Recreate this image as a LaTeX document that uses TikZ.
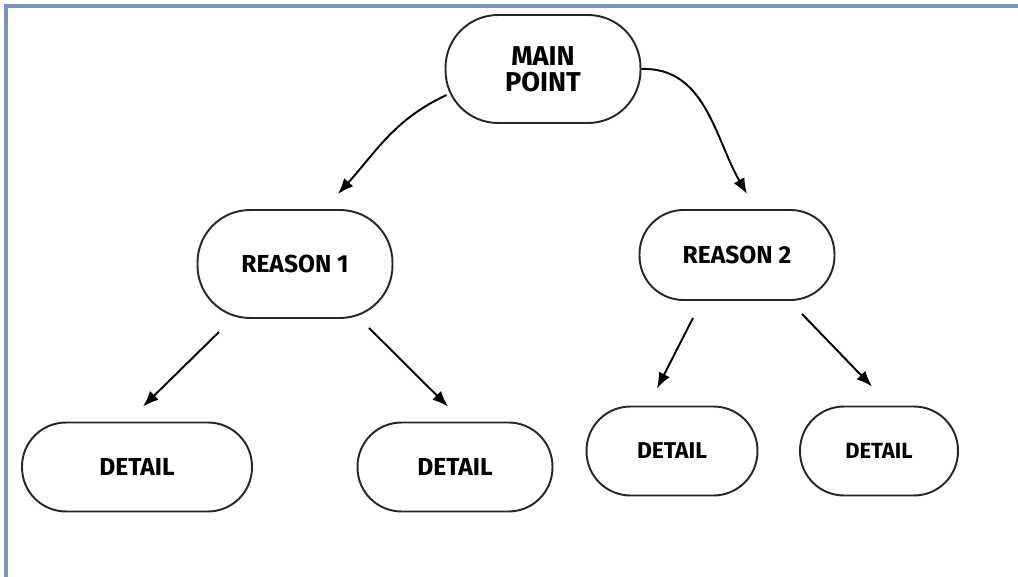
\documentclass[tikz,border=0pt]{standalone}
\usepackage{fontspec}
\setmainfont{Fira Sans}
\usetikzlibrary{arrows.meta}
\definecolor{framecol}{RGB}{120,148,190}
\tikzstyle{node_box} = [draw=black!85, line width=1.1pt, rounded corners=0.88cm, inner sep=0pt, align=center]
\tikzstyle{node_main} = [node_box, rounded corners=1.05cm, minimum width=3.9cm, minimum height=2.16cm, font=\bfseries\fontsize{15.5}{15}\selectfont]
\tikzstyle{node_reason} = [node_box, minimum width=3.9cm, minimum height=1.8cm, font=\bfseries\fontsize{14}{16}\selectfont]
\tikzstyle{node_detail} = [node_box, minimum width=3.9cm, minimum height=1.78cm, font=\bfseries\fontsize{14}{16}\selectfont]
\tikzstyle{edge_arrow} = [line width=1.1pt, -{Latex[length=9pt,width=7pt]}]
\tikzstyle{edge_frame} = [framecol, line width=2pt]

\begin{document}
\begin{tikzpicture}[x=0.02cm, y=0.02cm]
\useasboundingbox (0,0) rectangle (1018,-577);
\draw[edge_frame] (6,-577) -- (6,-6) -- (1018,-6);

\node (M) at (543,-69) [node_main] {MAIN\\POINT};
\node (R1) at (295,-264) [node_reason, minimum height=2.16cm, rounded corners=1.05cm] {REASON 1};
\node (R2) at (737,-255) [node_reason] {REASON 2};
\node (D1) at (137,-467) [node_detail, minimum width=4.6cm] {DETAIL};
\node (D2) at (455,-467) [node_detail] {DETAIL};
\node (D3) at (672,-451) [node_detail, minimum width=3.42cm, font=\bfseries\fontsize{13}{15}\selectfont] {DETAIL};
\node (D4) at (879,-451) [node_detail, minimum width=3.16cm, font=\bfseries\fontsize{12.5}{15}\selectfont] {DETAIL};

\draw[edge_arrow] ([shift={(2,-26)}]M.west) to[out=205, in=48] ([shift={(43,15)}]R1.north);
\draw[edge_arrow] (M.east) to[out=2, in=120] ([shift={(10,15)}]R2.north);
\draw[edge_arrow] ([shift={(-76,-13)}]R1.south) -- ([shift={(6,15)}]D1.north);
\draw[edge_arrow] ([shift={(74,-9)}]R1.south) -- ([shift={(-7,15)}]D2.north);
\draw[edge_arrow] ([shift={(-44,-17)}]R2.south) -- ([shift={(-15,17)}]D3.north);
\draw[edge_arrow] ([shift={(65,-13)}]R2.south) -- ([shift={(-7,19)}]D4.north);
\end{tikzpicture}
\end{document}
